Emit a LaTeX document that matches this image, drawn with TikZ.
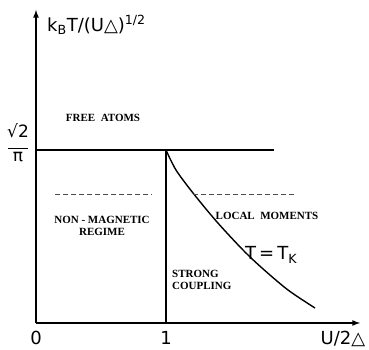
\documentclass[tikz,border=0pt]{standalone}
\usepackage{fontspec}
\setmainfont{Liberation Serif}
\setsansfont{DejaVu Sans}
\begin{document}
\begin{tikzpicture}
[
	x=1pt,y=-1pt,
	axis/.style={line width=1.6pt,-latex},
	region/.style={font=\rmfamily\bfseries\fontsize{11}{12.5}\selectfont,inner sep=0pt,align=center},
	lbl/.style={font=\sffamily\fontsize{18}{20}\selectfont,inner sep=0pt},
	boundary/.style={line width=1.5pt},
	crossover/.style={gray!60!black,line width=0.8pt,dash pattern=on 5pt off 3pt}
]
	\useasboundingbox (0,0) rectangle (369,350);

	% axes
	\coordinate (origin) at (36,323);
	\coordinate (ytip) at (36,10);
	\coordinate (xtip) at (360,323);
	\draw[axis] (origin) -- (ytip);
	\draw[axis] (origin) -- (xtip);

	% free atoms line and strong coupling line
	\coordinate (left) at (36,150);
	\coordinate (crit) at (166,150);
	\coordinate (right) at (274,150);
	\coordinate (foot) at (166,323);
	\draw[boundary] (left) -- (right);
	\draw[line width=1.1pt] (crit) -- (foot);

	% kondo temperature
	\draw[line width=1.4pt,smooth] plot coordinates {(166,150) (176,170) (193,193) (217,222) (243,250) (262,268) (288,290) (315,308)};

	% crossovers
	\coordinate (dl1) at (55,194);
	\coordinate (dl2) at (152,194);
	\coordinate (dr1) at (193,194);
	\coordinate (dr2) at (294,194);
	\draw[crossover] (dl1) -- (dl2);
	\draw[crossover] (dr1) -- (dr2);

	% regimes
	\node[region] (free) at (103,118) {FREE\ \ ATOMS};
	\node[region] (nonmag) at (102,226) {NON - MAGNETIC\\REGIME};
	\node[region] (local) at (267,216) {LOCAL\ \ MOMENTS};
	\node[region,align=left,anchor=west] (strong) at (172,280) {STRONG\\COUPLING};
	\node[lbl,anchor=west] (tk) at (245,255) {T\,=\,T\textsubscript{K}};

	% labels
	\node[lbl,anchor=west] (ylabel) at (47,25) {k\textsubscript{B}T/(U△)\textsuperscript{1/2}};
	\node[lbl,below] (zero) at (36,331) {0};
	\node[lbl,below] (one) at (166,331) {1};
	\node[lbl] (xlabel) at (343,339) {U/2△};
	\node[font=\sffamily\fontsize{17}{17}\selectfont,inner sep=0pt] (frac) at (18,145) {\begin{tabular}{@{}c@{}}√2\\[-5pt]\rule{20pt}{1pt}\\[-5pt]π\end{tabular}};

\end{tikzpicture}
\end{document}
